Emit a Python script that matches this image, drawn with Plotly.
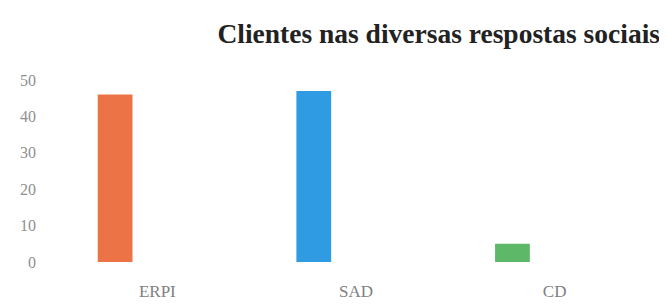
import plotly.graph_objects as go

categories = ["ERPI", "SAD", "CD"]
values = [46, 47, 5]
colors = ["#EC7345", "#2F9BE2", "#5DB868"]
y_ticks = [0, 10, 20, 30, 40, 50]

x_pos = list(range(len(categories)))

fig = go.Figure()
fig.add_trace(go.Bar(
    x=x_pos, y=values,
    marker=dict(color=colors, line=dict(width=0)),
    width=0.175, offset=-0.30,
    showlegend=False,
))

W, H = 667, 305
# the page body adds an 8px margin, so figure coords = page coords - 8
plot_left, plot_right = 47.25, 645.75
plot_top, plot_bottom = 64, 265

fig.update_layout(
    width=W, height=H,
    margin=dict(l=plot_left, r=W - plot_right, t=plot_top, b=H - plot_bottom),
    paper_bgcolor="white", plot_bgcolor="white",
    title=dict(text="<b>Clientes nas diversas respostas sociais</b>",
               font=dict(family="Liberation Serif", size=27.5, color="#222"),
               x=652 / W, xanchor="right", xref="container",
               y=1 - 25 / H, yanchor="middle", yref="container"),
    font=dict(family="Liberation Serif", color="#888"),
    xaxis=dict(range=[-0.5, 2.5], tickmode="array", tickvals=x_pos, ticktext=categories,
               showgrid=False, zeroline=False, showline=False, ticks="",
               tickfont=dict(size=17, color="#808080"), ticklabelstandoff=17),
    yaxis=dict(range=[0, (plot_bottom - plot_top) / 3.85], tickmode="array", tickvals=y_ticks,
               showgrid=False, zeroline=False, showline=False, ticks="",
               tickfont=dict(size=16, color="#909090"), ticklabelstandoff=21),
)

fig.write_html("out.html")
